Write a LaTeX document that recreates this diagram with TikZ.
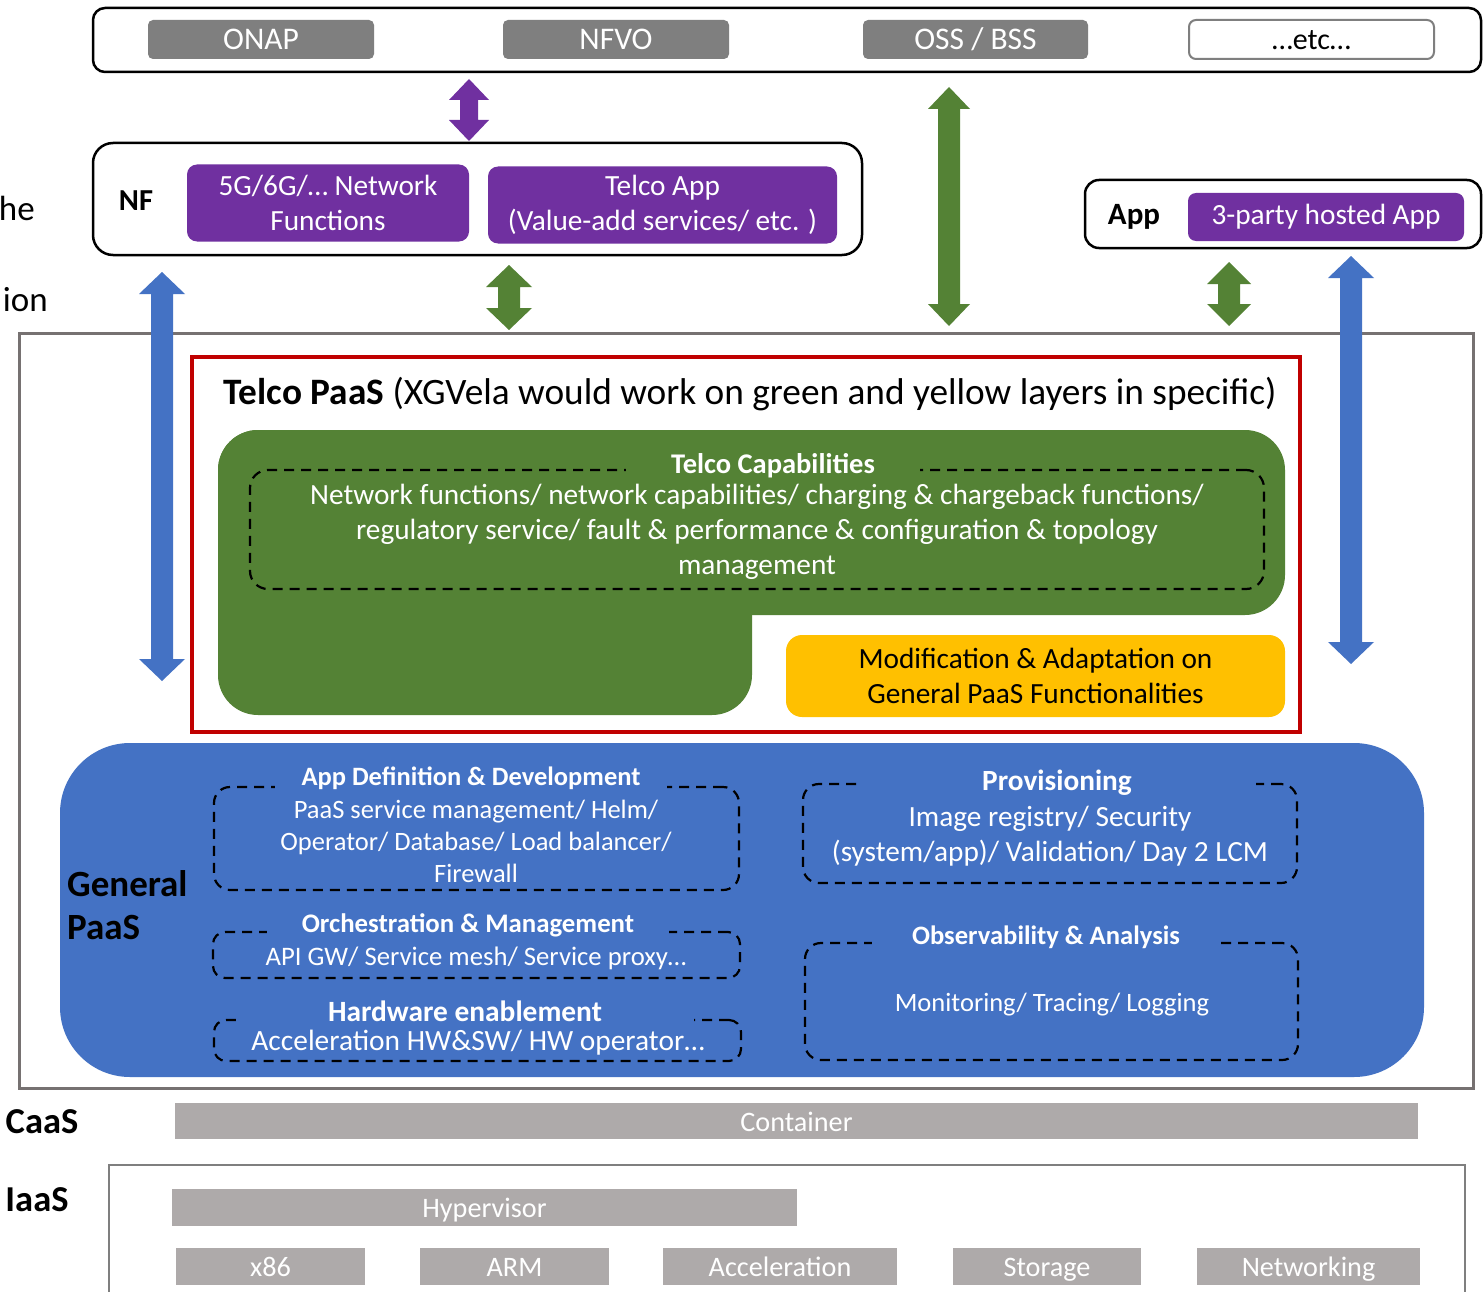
\documentclass[tikz,border=0pt]{standalone}
\usepackage{fontspec}
\setmainfont{Carlito}
\usetikzlibrary{calc}
\definecolor{cpurple}{HTML}{7030A0}
\definecolor{cgray}{HTML}{7F7F7F}
\definecolor{cgreen}{HTML}{548235}
\definecolor{cblue}{HTML}{4472C4}
\definecolor{cred}{HTML}{C00000}
\definecolor{cyellow}{HTML}{FFC000}
\definecolor{clgray}{HTML}{AEAAAA}
\definecolor{cogray}{HTML}{767171}
\newcommand\fsz[2]{\fontsize{#1}{#2}\selectfont}
\newcommand\blockarr[6]{\fill[#1] let \p1=(#2), \p2=(#3) in
  (\x1,\y1) -- (\x1+#5pt,\y1-#6pt) -- (\x1+#4pt,\y1-#6pt) -- (\x2+#4pt,\y2+#6pt) -- (\x2+#5pt,\y2+#6pt)
  -- (\x2,\y2) -- (\x2-#5pt,\y2+#6pt) -- (\x2-#4pt,\y2+#6pt) -- (\x1-#4pt,\y1-#6pt) -- (\x1-#5pt,\y1-#6pt) -- cycle;}
\tikzset{
  wbox/.style={draw=black, line width=2.5pt, rounded corners=14pt, fill=white},
  gbtn/.style={fill=cgray, rounded corners=5pt, text=white, font=\fsz{31.5}{36}, inner sep=0pt, text height=21pt, text depth=0pt},
  pbtn/.style={fill=cpurple, rounded corners=10pt, text=white, font=\fsz{29.3}{35}, align=center, inner sep=0pt},
  lbl/.style={font=\fsz{36.5}{43}\bfseries, inner sep=0pt},
  dbox/.style={draw=black, dash pattern=on 10pt off 7pt, line width=2.2pt, rounded corners=16pt, inner sep=0pt},
  wtxt/.style={text=white, align=center, inner sep=0pt},
  lgbar/.style={fill=clgray, text=white, font=\fsz{28.2}{32}, inner sep=0pt, text height=20pt, text depth=0pt},
}
\begin{document}
\begin{tikzpicture}[x=1pt,y=-1pt]
\fill[white] (0,0) rectangle (1483,1292);
\useasboundingbox (0,0) rectangle (1483,1292);

% left cut-off words
\node[anchor=base east, font=\fsz{35}{40}, inner sep=0pt] (cut1) at (35,221) {he};
\node[anchor=base east, font=\fsz{35}{40}, inner sep=0pt] (cut2) at (48,311) {ion};

% top box
\node[wbox, rounded corners=12pt, minimum width=1388pt, minimum height=64pt] (top) at (787,40) {};
\node[gbtn, minimum width=226pt, minimum height=39pt] (onap) at (261,39.5) {ONAP};
\node[gbtn, minimum width=226pt, minimum height=39pt] (nfvo) at (616,39.5) {NFVO};
\node[gbtn, minimum width=225pt, minimum height=39pt] (oss) at (975.5,39.5) {OSS / BSS};
\node[draw=cgray, line width=2pt, rounded corners=7pt, fill=white, font=\fsz{30}{36}, inner sep=0pt, text height=21pt, text depth=0pt, minimum width=245pt, minimum height=39pt] (etc) at (1311.5,39.5) {…etc…};

% NF box
\node[wbox, rounded corners=20pt, minimum width=769pt, minimum height=112pt] (nf) at (477.5,199) {};
\node[lbl, font=\fsz{30.5}{36}\bfseries] (nflbl) at (136,201) {NF};
\node[pbtn, minimum width=282pt, minimum height=77pt] (fiveg) at (328,203) {5G/6G/… Network\\Functions};
\node[pbtn, minimum width=349pt, minimum height=77pt] (tapp) at (662.5,205) {Telco App\\(Value-add services/ etc. )};

% App box
\node[wbox, rounded corners=14pt, minimum width=396pt, minimum height=68pt] (app) at (1283,214) {};
\node[lbl, font=\fsz{31}{36}\bfseries] (applbl) at (1134,217) {App};
\node[pbtn, rounded corners=8pt, minimum width=276pt, minimum height=48pt] (third) at (1326,217) {3-party hosted App};

% outer gray box and red box
\draw[cogray, line width=3pt] (19,333) rectangle (1473,1088);
\draw[cred, line width=4pt] (192,357) rectangle (1300,732);
\node[font=\fsz{37.3}{42}, inner sep=0pt] (title) at (750,394) {\textbf{Telco PaaS} (XGVela would work on green and yellow layers in specific)};

% green shape
\fill[cgreen, rounded corners=40pt] (218,430) rectangle (1285,615);
\fill[cgreen, rounded corners=40pt] (218,430) rectangle (752,715);
\node[dbox, rounded corners=18pt, minimum width=1014pt, minimum height=119pt] (capbox) at (757,529.5) {};
\node[fill=cgreen, text=white, font=\fsz{28.5}{33}\bfseries, inner xsep=45pt, inner ysep=4pt] (captitle) at (773,466) {Telco Capabilities};
\node[wtxt, font=\fsz{29.3}{35}] (captxt) at (757,532) {Network functions/ network capabilities/ charging \& chargeback functions/\\regulatory service/ fault \& performance \& configuration \& topology\\management};

% yellow
\node[fill=cyellow, rounded corners=16pt, minimum width=499pt, minimum height=82pt, align=center, font=\fsz{29.3}{35}, inner sep=0pt] (mod) at (1035.5,676) {Modification \& Adaptation on\\General PaaS Functionalities};

% general PaaS
\fill[cblue, rounded corners=70pt] (60,743) rectangle (1424,1077);
\node[lbl, anchor=west, align=left, font=\fsz{37}{43}\bfseries] (gpaas) at (67,905) {General\\PaaS};

\node[dbox, minimum width=525pt, minimum height=103pt] (adbox) at (476.5,838.5) {};
\node[fill=cblue, text=white, font=\fsz{26.5}{30}\bfseries, inner xsep=27pt, inner ysep=3pt] (adtitle) at (471,778) {App Definition \& Development};
\node[wtxt, font=\fsz{26.5}{32}] (adtxt) at (476,841) {PaaS service management/ Helm/\\Operator/ Database/ Load balancer/\\Firewall};

\node[dbox, rounded corners=12pt, minimum width=527pt, minimum height=46pt] (ombox) at (476.5,955) {};
\node[fill=cblue, text=white, font=\fsz{26.8}{30}\bfseries, inner xsep=35pt, inner ysep=3pt] (omtitle) at (468,925) {Orchestration \& Management};
\node[wtxt, font=\fsz{26.7}{30}] (omtxt) at (476,958) {API GW/ Service mesh/ Service proxy…};

\node[dbox, rounded corners=12pt, minimum width=527pt, minimum height=41pt] (hwbox) at (477.5,1040.5) {};
\node[fill=cblue, text=white, font=\fsz{29.4}{32}\bfseries, inner xsep=92pt, inner ysep=3pt] (hwtitle) at (465,1011) {Hardware enablement};
\node[wtxt, font=\fsz{29.4}{32}] (hwtxt) at (478,1043) {Acceleration HW\&SW/ HW operator…};

\node[dbox, minimum width=494pt, minimum height=99pt] (prbox) at (1050,833.5) {};
\node[fill=cblue, text=white, font=\fsz{29.3}{32}\bfseries, inner xsep=124pt, inner ysep=3pt] (prtitle) at (1057,783) {Provisioning};
\node[wtxt, font=\fsz{29.3}{35}] (prtxt) at (1050,836) {Image registry/ Security\\(system/app)/ Validation/ Day 2 LCM};

\node[dbox, minimum width=493pt, minimum height=117pt] (obbox) at (1051.5,1001.5) {};
\node[fill=cblue, text=white, font=\fsz{26.6}{30}\bfseries, inner xsep=40pt, inner ysep=3pt] (obtitle) at (1046,937) {Observability \& Analysis};
\node[wtxt, font=\fsz{26.5}{30}] (obtxt) at (1052,1005) {Monitoring/ Tracing/ Logging};

% arrows
\coordinate (pa1) at (469,79);  \coordinate (pa2) at (469,141);
\coordinate (ga1) at (509,265); \coordinate (ga2) at (509,330);
\coordinate (gb1) at (949,87);  \coordinate (gb2) at (949,326);
\coordinate (gc1) at (1229,262); \coordinate (gc2) at (1229,326);
\coordinate (ba1) at (162,272); \coordinate (ba2) at (162,681);
\coordinate (bb1) at (1351,256); \coordinate (bb2) at (1351,664);
\blockarr{cpurple}{pa1}{pa2}{9}{20}{21}
\blockarr{cgreen}{ga1}{ga2}{11}{23}{22}
\blockarr{cgreen}{gb1}{gb2}{11}{21}{22}
\blockarr{cgreen}{gc1}{gc2}{11}{22}{22}
\blockarr{cblue}{ba1}{ba2}{11}{23}{22}
\blockarr{cblue}{bb1}{bb2}{11}{23}{22}

% CaaS / IaaS
\node[lbl] (caas) at (42,1122) {CaaS};
\node[lgbar, minimum width=1243pt, minimum height=36pt] (container) at (796.5,1121) {Container};
\node[lbl] (iaas) at (37,1200) {IaaS};
\draw[cgray, line width=2.5pt] (109,1300) -- (109,1165) -- (1465,1165) -- (1465,1300);
\node[lgbar, minimum width=625pt, minimum height=37pt] (hyp) at (484.5,1207.5) {Hypervisor};
\node[lgbar, minimum width=189pt, minimum height=37pt] (x86) at (270.5,1266.5) {x86};
\node[lgbar, minimum width=189pt, minimum height=37pt] (arm) at (514.5,1266.5) {ARM};
\node[lgbar, minimum width=234pt, minimum height=37pt] (accel) at (780,1266.5) {Acceleration};
\node[lgbar, minimum width=188pt, minimum height=37pt] (stor) at (1047,1266.5) {Storage};
\node[lgbar, minimum width=223pt, minimum height=37pt] (netw) at (1308.5,1266.5) {Networking};
\end{tikzpicture}
\end{document}
